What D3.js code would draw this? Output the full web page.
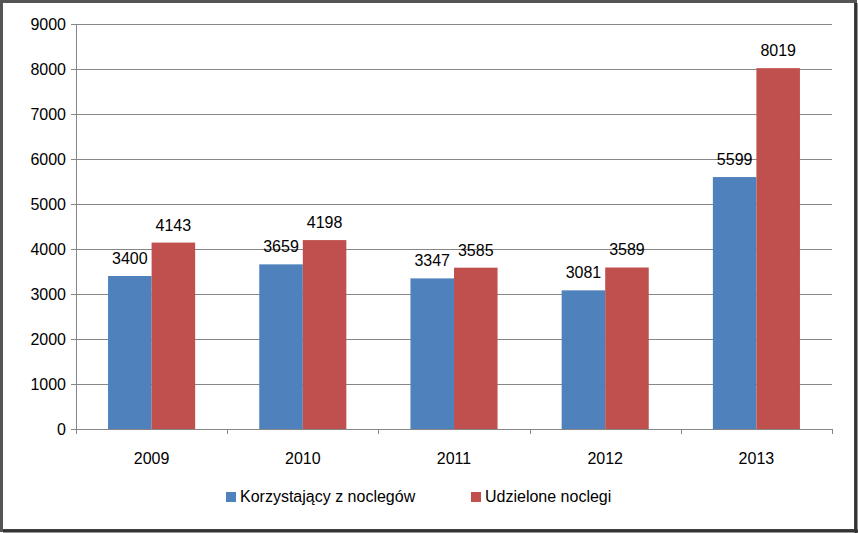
<!DOCTYPE html>
<html><head><meta charset="utf-8">
<script src="https://cdn.jsdelivr.net/npm/d3@7"></script>
<style>body{margin:0;background:#fff}svg{display:block;font-family:"Liberation Sans",Arial,sans-serif}</style>
</head><body><div class="module"></div>
<script>
const years = ["2009","2010","2011","2012","2013"];
const korzystajacy = [3400,3659,3347,3081,5599];
const udzielone = [4143,4198,3585,3589,8019];
const seriesNames = ["Korzystający z noclegów","Udzielone noclegi"];
const colors = ["#4f81bd","#c0504d"];
const yTicks = [0,1000,2000,3000,4000,5000,6000,7000,8000,9000];

const W = 858, H = 533;
const plotL = 76, plotR = 832, plotT = 24, plotB = 429;

const svg = d3.select('.module').append('svg').attr('width', W).attr('height', H);

// frame
svg.append('rect').attr('x',1.5).attr('y',1.5).attr('width',W-4).attr('height',H-4)
	.attr('fill','#fff').attr('stroke','#555').attr('stroke-width',3);
svg.append('line').attr('x1',W-2).attr('x2',W-2).attr('y1',3).attr('y2',H).attr('stroke','#333').attr('stroke-width',3);
svg.append('line').attr('x1',3).attr('x2',W).attr('y1',H-2).attr('y2',H-2).attr('stroke','#333').attr('stroke-width',3);

const x = d3.scaleBand().domain(years).range([plotL, plotR]);
const y = d3.scaleLinear().domain([0,9000]).range([plotB, plotT]);

// gridlines
svg.selectAll('.grid').data(yTicks).enter().append('line')
	.attr('x1', plotL-5).attr('x2', plotR)
	.attr('y1', d => Math.round(y(d))+0.5).attr('y2', d => Math.round(y(d))+0.5)
	.attr('stroke','#868686');
svg.append('line').attr('x1',plotL+0.5).attr('x2',plotL+0.5).attr('y1',plotT).attr('y2',plotB).attr('stroke','#868686');
svg.selectAll('.ylab').data(yTicks).enter().append('text')
	.attr('x', plotL-10).attr('y', d => y(d)).attr('dy','0.35em')
	.attr('text-anchor','end').attr('font-size',16).text(d => d);

// category ticks
const bounds = years.map(d => x(d)).concat([plotR]);
svg.selectAll('.xt').data(bounds).enter().append('line')
	.attr('x1', d => Math.round(d)+0.5).attr('x2', d => Math.round(d)+0.5)
	.attr('y1', plotB).attr('y2', plotB+5).attr('stroke','#868686');
svg.selectAll('.xlab').data(years).enter().append('text')
	.attr('x', d => x(d)+x.bandwidth()/2).attr('y', 464)
	.attr('text-anchor','middle').attr('font-size',16).text(d => d);

const bw = x.bandwidth()*0.288;
[korzystajacy, udzielone].forEach((vals, s) => {
	const g = svg.append('g');
	g.selectAll('rect').data(vals).enter().append('rect')
		.attr('x', (d,i) => x(years[i]) + x.bandwidth()/2 + (s-1)*bw)
		.attr('width', bw)
		.attr('y', d => y(d)).attr('height', d => plotB - y(d))
		.attr('fill', colors[s]);
	g.selectAll('text').data(vals).enter().append('text')
		.attr('x', (d,i) => x(years[i]) + x.bandwidth()/2 + (s-0.5)*bw)
		.attr('y', d => y(d) - 12)
		.attr('text-anchor','middle').attr('font-size',16).text(d => d);
});

// legend
const legX = [226, 471];
seriesNames.forEach((n,i) => {
	svg.append('rect').attr('x',legX[i]).attr('y',492).attr('width',10).attr('height',10).attr('fill',colors[i]);
	svg.append('text').attr('x',legX[i]+14).attr('y',502).attr('font-size',16).text(n);
});
</script></body></html>
